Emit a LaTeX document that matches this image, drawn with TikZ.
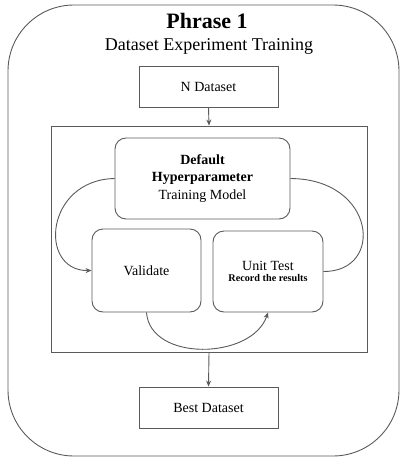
\documentclass[tikz,border=0pt]{standalone}
\usepackage{fontspec}
\setmainfont{Liberation Serif}
\usetikzlibrary{arrows.meta}
\definecolor{edge}{HTML}{5A5A5A}
\tikzset{
  sq/.style={draw=edge, line width=0.9pt, rectangle, inner sep=0pt},
  rnd/.style={draw=edge, line width=0.9pt, rectangle, rounded corners=11pt, inner sep=0pt, align=center},
  link/.style={draw=edge, line width=0.9pt},
  tip/.style={-{Stealth[length=6pt,width=5pt]}},
  body/.style={font=\fontsize{14}{17.5}\selectfont},
}
\begin{document}
\begin{tikzpicture}[x=1pt,y=-1pt]
\useasboundingbox (0,0) rectangle (400,459);
% outer frame
\draw[draw=edge, line width=0.9pt, rounded corners=66pt] (8,5) rectangle (399,456);
% headings
\node[font=\bfseries\fontsize{22}{26}\selectfont] (title) at (207,21) {Phrase 1};
\node[font=\fontsize{18}{22}\selectfont] (subtitle) at (209,46) {Dataset Experiment Training};
% input and output boxes
\node[sq, body, minimum width=139pt, minimum height=41pt] (ndata) at (208.5,86.5) {N Dataset};
\node[sq, body, minimum width=139pt, minimum height=41pt] (best) at (208.5,407.5) {Best Dataset};
% training block
\node[sq, minimum width=316pt, minimum height=226pt] (inner) at (209,239) {};
\node[rnd, body, minimum width=175pt, minimum height=81pt] (hyper) at (202.5,178.5)
  {\textbf{Default}\\\textbf{Hyperparameter}\\Training Model};
\node[rnd, body, minimum width=109pt, minimum height=83pt] (valid) at (146.5,270.5) {Validate};
\node[rnd, minimum width=110pt, minimum height=81pt, align=center] (utest) at (268,271.5)
  {{\fontsize{14}{15}\selectfont Unit Test}\\[-1pt]{\bfseries\fontsize{10.2}{12}\selectfont Record the results}};
% connectors
\draw[link, tip] (ndata.south) -- (inner.north);
\draw[link, tip] (inner.south) -- (best.north);
\draw[link, tip] (hyper.west) .. controls (45,180) and (38,271) .. (valid.west);
\draw[link] (utest.east) .. controls (385,272) and (376,179) .. (hyper.east);
\draw[link, tip] (valid.south) .. controls (150,362) and (252,360) .. (utest.south);
\end{tikzpicture}
\end{document}
